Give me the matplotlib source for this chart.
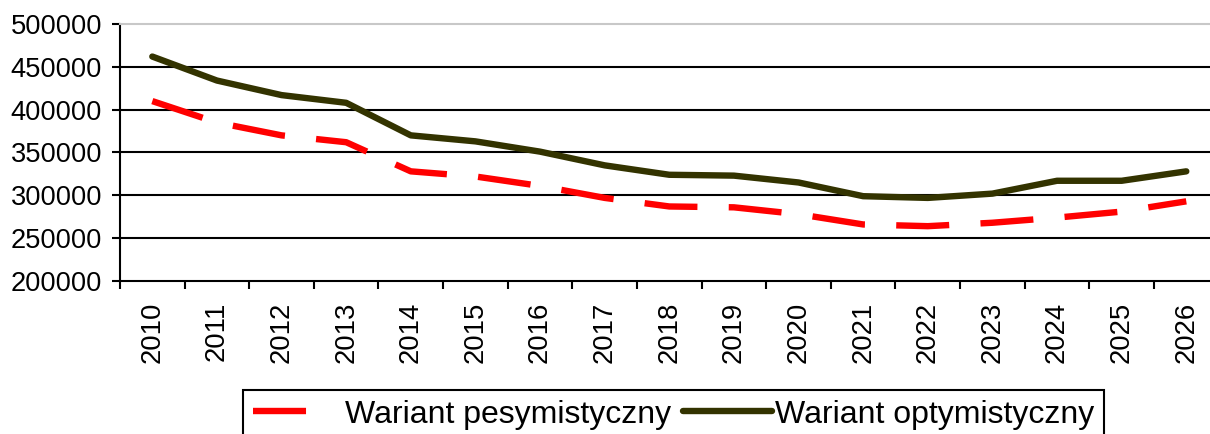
import matplotlib.pyplot as plt
from matplotlib.lines import Line2D
import numpy as np

plt.rcParams['font.family'] = ['Liberation Sans', 'DejaVu Sans']

years = ["2010", "2011", "2012", "2013", "2014", "2015", "2016", "2017", "2018",
         "2019", "2020", "2021", "2022", "2023", "2024", "2025", "2026"]
pesymistyczny = [410000, 385000, 370000, 362000, 328000, 322000, 311000, 297000, 287000,
                 286000, 278000, 266000, 264000, 268000, 274000, 281000, 293000]
optymistyczny = [462000, 434000, 417000, 408000, 370000, 363000, 351000, 335000, 324000,
                 323000, 315000, 299000, 297000, 302000, 317000, 317000, 328000]
yticks = [200000, 250000, 300000, 350000, 400000, 450000, 500000]

fig = plt.figure(figsize=(12.1, 4.34), dpi=100)
ax = fig.add_axes([120 / 1210, 153 / 434, 1098.6 / 1210, 257 / 434])

x = np.arange(len(years))

# horizontal grid lines (not on the top border)
for v in yticks[1:-1]:
    ax.axhline(v, color="black", lw=1.5, zorder=1)

ax.plot(x, pesymistyczny, color="#ff0000", lw=4.6, dashes=(8.3, 4.9),
        dash_capstyle="butt", zorder=3)
ax.plot(x, optymistyczny, color="#333300", lw=4.6, solid_capstyle="round",
        solid_joinstyle="round", zorder=3)

ax.set_xlim(-0.5, len(years) - 0.5)
ax.set_ylim(200000, 500000)
ax.set_yticks(yticks)
ax.set_yticklabels([str(v) for v in yticks])
ax.set_xticks(x)
ax.set_xticklabels(years, rotation=90)
ax.set_xticks(np.arange(len(years) + 1) - 0.5, minor=True)

ax.tick_params(axis="x", which="major", length=0, pad=15, labelsize=19.8)
ax.tick_params(axis="x", which="minor", length=6, width=1.5, direction="out")
ax.tick_params(axis="y", length=6, width=1.5, direction="out", pad=7, labelsize=19.6)

for side in ["left", "bottom"]:
    ax.spines[side].set_linewidth(1.5)
    ax.spines[side].set_color("black")
ax.spines["top"].set_color("#c8c8c8")
ax.spines["top"].set_linewidth(1.5)
ax.spines["right"].set_visible(False)

# legend proxies (red one shows a single dash like the original)
h_pes = Line2D([], [], color="#ff0000", lw=4.6, dashes=(8.3, 6.5), dash_capstyle="butt")
h_opt = Line2D([], [], color="#333300", lw=4.6, solid_capstyle="round")
leg = fig.legend([h_pes, h_opt], ["Wariant pesymistyczny", "Wariant optymistyczny"],
                 loc="upper center", bbox_to_anchor=(673.5 / 1210, 44 / 434), ncol=2,
                 fontsize=23, frameon=True, fancybox=False, edgecolor="black",
                 framealpha=1, handlelength=2.8, handletextpad=0.1, columnspacing=0.35,
                 borderpad=0.3, borderaxespad=0)
leg.get_frame().set_linewidth(1.5)

fig.savefig("out.png", dpi=100)
